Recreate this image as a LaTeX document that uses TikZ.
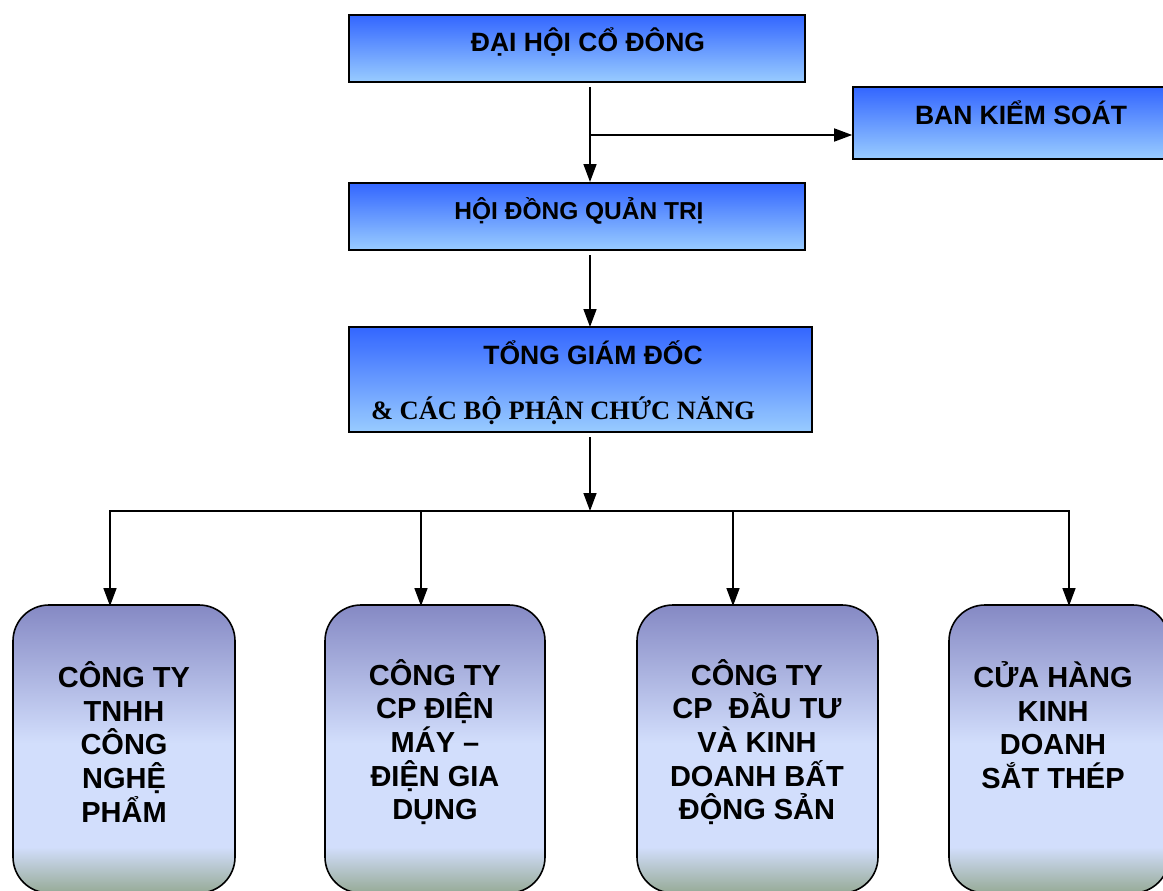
\documentclass[tikz,border=0pt]{standalone}
\usepackage{fontspec}
\setmainfont{Liberation Sans}
\newfontfamily\timesbold{Liberation Serif}[BoldFont={Liberation Serif Bold}]
\usetikzlibrary{arrows.meta}
\definecolor{bluetop}{RGB}{51,102,255}
\definecolor{bluebot}{RGB}{153,204,255}
\definecolor{subtop}{RGB}{133,137,196}
\definecolor{sublight}{RGB}{210,222,252}
\definecolor{subbot}{RGB}{150,170,150}
% three-stop fill for the subsidiary boxes: purple top, pale middle, grey-green foot
\pgfdeclareverticalshading{subshade}{100bp}{color(0bp)=(subbot); color(25bp)=(subbot); color(33bp)=(sublight); color(51bp)=(sublight); color(75bp)=(subtop); color(100bp)=(subtop)}
\tikzset{
  bluebox/.style={draw=black, line width=1.6pt, top color=bluetop, bottom color=bluebot, inner sep=0pt},
  subbox/.style={draw=black, line width=1.6pt, rounded corners=36pt, shading=subshade, inner sep=0pt},
  toptext/.style={font=\fontsize{26.5}{32}\selectfont\bfseries, inner sep=0pt},
  subtext/.style={font=\fontsize{29}{33.6}\selectfont\bfseries, align=center, inner sep=0pt},
  link/.style={line width=1.6pt, -{Triangle[length=18pt,width=13pt]}},
  plain/.style={line width=1.6pt}
}
\begin{document}
\begin{tikzpicture}[x=1pt,y=-1pt]
\useasboundingbox (0,0) rectangle (1163,891);
\clip (0,0) rectangle (1163,891);

% management boxes
\node[bluebox, minimum width=456pt, minimum height=67pt] (dhcd) at (577,48.5) {};
\node[toptext] (dhcdt) at (588,42) {ĐẠI HỘI CỔ ĐÔNG};

\node[bluebox, minimum width=330pt, minimum height=72pt] (bks) at (1018,123) {};
\node[toptext] (bkst) at (1021,113) {BAN KIỂM SOÁT};

\node[bluebox, minimum width=456pt, minimum height=67pt] (hdqt) at (577,216.5) {};
\node[toptext, font=\fontsize{24.5}{30}\selectfont\bfseries] (hdqtt) at (579,211) {HỘI ĐỒNG QUẢN TRỊ};

\node[bluebox, minimum width=463pt, minimum height=105pt] (tgd) at (580.5,379.5) {};
\node[toptext] (tgdt) at (593,353) {TỔNG GIÁM ĐỐC};
\node[font=\fontsize{26.5}{32}\timesbold\bfseries, inner sep=0pt] (tgdt2) at (563,411) {\& CÁC BỘ PHẬN CHỨC NĂNG};

% subsidiaries
\node[subbox, minimum width=222pt, minimum height=288pt] (s1) at (124,749) {};
\node[subbox, minimum width=220pt, minimum height=288pt] (s2) at (435,749) {};
\node[subbox, minimum width=241pt, minimum height=288pt] (s3) at (757.5,749) {};
\node[subbox, minimum width=220pt, minimum height=288pt] (s4) at (1059,749) {};

\node[subtext] (s1t) at (124,742) {CÔNG TY\\TNHH\\CÔNG\\NGHỆ\\PHẨM};
\node[subtext] (s2t) at (435,742) {CÔNG TY\\CP ĐIỆN\\MÁY –\\ĐIỆN GIA\\DỤNG};
\node[subtext] (s3t) at (757,742) {CÔNG TY\\CP\ \ ĐẦU TƯ\\VÀ KINH\\DOANH BẤT\\ĐỘNG SẢN};
\node[subtext] (s4t) at (1053,725) {CỬA HÀNG\\KINH\\DOANH\\SẮT THÉP};

% connectors
\coordinate (c1) at (590,87);
\coordinate (cb) at (590,135);
\draw[link] (c1) -- (590,182) coordinate (c1e);
\draw[link] (cb) -- (bks.west |- cb);
\coordinate (c2) at (590,255);
\draw[link] (c2) -- (590,327);
\coordinate (c3) at (590,437);
\coordinate (bus) at (590,511);
\draw[link] (c3) -- (bus);

\coordinate (bl) at (109,511);
\coordinate (br) at (1070,511);
\draw[plain] (bl) -- (br);
\draw[link] (110,511) -- (110,606);
\draw[link] (421,511) -- (421,606);
\draw[link] (733,511) -- (733,606);
\draw[link] (1069,511) -- (1069,606);
\end{tikzpicture}
\end{document}
